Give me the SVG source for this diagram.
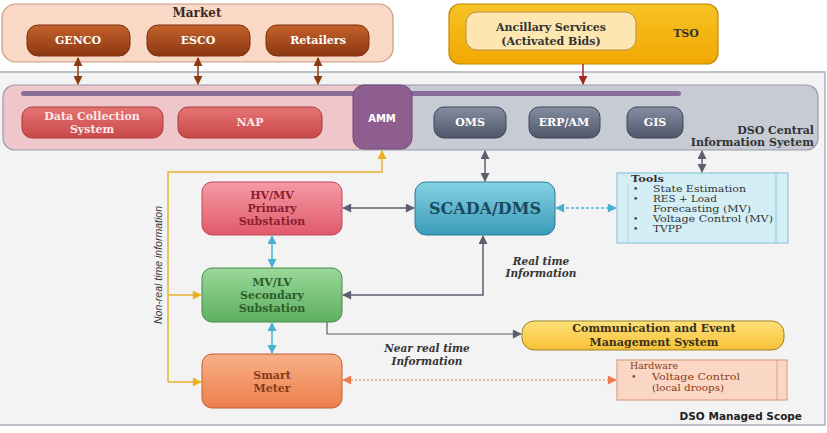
<svg xmlns="http://www.w3.org/2000/svg" width="827" height="433" viewBox="0 0 827 433">
<style>
.sb{font-family:"DejaVu Serif","Liberation Serif",serif;font-weight:bold;text-anchor:middle}
.sn{font-family:"DejaVu Serif","Liberation Serif",serif}
.ss{font-family:"DejaVu Sans","Liberation Sans",sans-serif;font-weight:bold}
.it{font-family:"DejaVu Serif","Liberation Serif",serif;font-weight:bold;font-style:italic;text-anchor:middle;font-size:10.5px;fill:#333}
</style>
<defs>
<linearGradient id="gBrown" x1="0" y1="0" x2="0" y2="1"><stop offset="0" stop-color="#c4622c"/><stop offset="1" stop-color="#8c3710"/></linearGradient>
<linearGradient id="gRed" x1="0" y1="0" x2="0" y2="1"><stop offset="0" stop-color="#e67474"/><stop offset="1" stop-color="#c94848"/></linearGradient>
<linearGradient id="gSlate" x1="0" y1="0" x2="0" y2="1"><stop offset="0" stop-color="#858da0"/><stop offset="1" stop-color="#4e566a"/></linearGradient>
<linearGradient id="gPink" x1="0" y1="0" x2="0" y2="1"><stop offset="0" stop-color="#f59aa4"/><stop offset="1" stop-color="#e05a6c"/></linearGradient>
<linearGradient id="gGreen" x1="0" y1="0" x2="0" y2="1"><stop offset="0" stop-color="#9ad89a"/><stop offset="1" stop-color="#5eb060"/></linearGradient>
<linearGradient id="gOrange" x1="0" y1="0" x2="0" y2="1"><stop offset="0" stop-color="#f8b088"/><stop offset="1" stop-color="#ec7f4c"/></linearGradient>
<linearGradient id="gTeal" x1="0" y1="0" x2="0" y2="1"><stop offset="0" stop-color="#86d2e4"/><stop offset="1" stop-color="#3a9ab8"/></linearGradient>
<linearGradient id="gGold" x1="0" y1="0" x2="0" y2="1"><stop offset="0" stop-color="#f8c226"/><stop offset="1" stop-color="#f0a800"/></linearGradient>
<linearGradient id="gYellow" x1="0" y1="0" x2="0" y2="1"><stop offset="0" stop-color="#fde07a"/><stop offset="1" stop-color="#f6c136"/></linearGradient>
<marker id="aBrown" viewBox="0 0 10 10" refX="9" refY="5" markerWidth="9" markerHeight="9" markerUnits="userSpaceOnUse" orient="auto-start-reverse"><path d="M0,0L10,5L0,10z" fill="#8b3a10"/></marker>
<marker id="aRed" viewBox="0 0 10 10" refX="9" refY="5" markerWidth="9" markerHeight="9" markerUnits="userSpaceOnUse" orient="auto-start-reverse"><path d="M0,0L10,5L0,10z" fill="#a02828"/></marker>
<marker id="aGray" viewBox="0 0 10 10" refX="9" refY="5" markerWidth="10" markerHeight="9" markerUnits="userSpaceOnUse" orient="auto-start-reverse"><path d="M0,0L10,5L0,10z" fill="#5a6070"/></marker>
<marker id="aCyan" viewBox="0 0 10 10" refX="9" refY="5" markerWidth="10" markerHeight="9" markerUnits="userSpaceOnUse" orient="auto-start-reverse"><path d="M0,0L10,5L0,10z" fill="#4ab0d0"/></marker>
<marker id="aYel" viewBox="0 0 10 10" refX="9" refY="5" markerWidth="11" markerHeight="9" markerUnits="userSpaceOnUse" orient="auto-start-reverse"><path d="M0,0L10,5L0,10z" fill="#eab020"/></marker>
<marker id="aOr" viewBox="0 0 10 10" refX="9" refY="5" markerWidth="11" markerHeight="9" markerUnits="userSpaceOnUse" orient="auto-start-reverse"><path d="M0,0L10,5L0,10z" fill="#f07a50"/></marker>
</defs>
<rect width="827" height="433" fill="#ffffff"/>

<!-- DSO managed scope frame -->
<g id="scope">
<rect x="-2" y="72" width="827" height="353" fill="#f3f3f4" stroke="#aab0ba" stroke-width="1.5"/>
<text class="ss" x="802" y="420" font-size="10.5" text-anchor="end" fill="#222">DSO Managed Scope</text>
</g>

<!-- Market -->
<g id="market">
<rect x="2" y="4" width="391" height="58" rx="14" fill="#f9d8c6" stroke="#c69a80" stroke-width="1.2"/>
<text class="sb" x="197" y="17" font-size="12" fill="#3a2a20">Market</text>
</g>
<g id="genco"><rect x="27" y="25" width="103" height="31" rx="11" fill="url(#gBrown)" stroke="#7a3010"/><text class="sb" x="78" y="44" font-size="11" fill="#fff">GENCO</text></g>
<g id="esco"><rect x="147" y="25" width="103" height="31" rx="11" fill="url(#gBrown)" stroke="#7a3010"/><text class="sb" x="198" y="44" font-size="11" fill="#fff">ESCO</text></g>
<g id="retailers"><rect x="266" y="25" width="103" height="31" rx="11" fill="url(#gBrown)" stroke="#7a3010"/><text class="sb" x="318" y="44" font-size="11" fill="#fff">Retailers</text></g>

<!-- TSO -->
<g id="tso">
<rect x="449" y="4" width="269" height="60" rx="11" fill="url(#gGold)" stroke="#c08a00" stroke-width="1.2"/>
<text class="sb" x="686" y="37" font-size="11" fill="#333">TSO</text>
</g>
<g id="ancillary">
<rect x="466" y="12" width="170" height="38" rx="11" fill="#fde6b0" stroke="#b8904a"/>
<text class="sb" x="551" y="31" font-size="11" fill="#333">Ancillary Services</text>
<text class="sb" x="551" y="45" font-size="11" fill="#333">(Activated Bids)</text>
</g>

<!-- DSO central info system band -->
<g id="dso-central">
<path d="M15,85 H368 V150 H15 Q3,150 3,138 V97 Q3,85 15,85 Z" fill="#efc6c9"/>
<path d="M368,85 H806 Q818,85 818,97 V138 Q818,150 806,150 H368 Z" fill="#c7cbd3"/>
<rect x="3" y="85" width="815" height="65" rx="12" fill="none" stroke="#9a9aa6" stroke-width="1.2"/>
<rect x="21" y="91" width="660" height="5" rx="2.5" fill="#8a6c98"/>
<text class="sb" x="814" y="134" font-size="11" fill="#333" style="text-anchor:end">DSO Central</text>
<text class="sb" x="814" y="146" font-size="11" fill="#333" style="text-anchor:end">Information Syetem</text>
</g>
<g id="dcs"><rect x="22" y="107" width="141" height="31" rx="10" fill="url(#gRed)" stroke="#a83a3a"/><text class="sb" x="92" y="120" font-size="11" fill="#fde8e8">Data Collection</text><text class="sb" x="92" y="133" font-size="11" fill="#fde8e8">System</text></g>
<g id="nap"><rect x="178" y="107" width="144" height="31" rx="10" fill="url(#gRed)" stroke="#a83a3a"/><text class="sb" x="250" y="126" font-size="11" fill="#fde8e8">NAP</text></g>
<g id="amm"><rect x="353" y="85" width="59" height="64" rx="11" fill="#8e5f8e" stroke="#74487a"/><text class="ss" x="382" y="122" font-size="10" fill="#fff" text-anchor="middle">AMM</text></g>
<g id="oms"><rect x="434" y="107" width="72" height="31" rx="10" fill="url(#gSlate)" stroke="#3e4656"/><text class="sb" x="470" y="126" font-size="11" fill="#fff">OMS</text></g>
<g id="erp"><rect x="529" y="107" width="71" height="31" rx="10" fill="url(#gSlate)" stroke="#3e4656"/><text class="sb" x="564" y="126" font-size="11" fill="#fff">ERP/AM</text></g>
<g id="gis"><rect x="627" y="107" width="56" height="31" rx="10" fill="url(#gSlate)" stroke="#3e4656"/><text class="sb" x="655" y="126" font-size="11" fill="#fff">GIS</text></g>

<!-- Field nodes -->
<g id="hvmv"><rect x="202" y="182" width="140" height="53" rx="10" fill="url(#gPink)" stroke="#c04a5a"/><text class="sb" x="272" y="199" font-size="11" fill="#8a2030">HV/MV</text><text class="sb" x="272" y="212" font-size="11" fill="#8a2030">Primary</text><text class="sb" x="272" y="225" font-size="11" fill="#8a2030">Substation</text></g>
<g id="mvlv"><rect x="202" y="268" width="140" height="54" rx="10" fill="url(#gGreen)" stroke="#4a8a4a"/><text class="sb" x="272" y="286" font-size="11" fill="#2a5e2a">MV/LV</text><text class="sb" x="272" y="299" font-size="11" fill="#2a5e2a">Secondary</text><text class="sb" x="272" y="312" font-size="11" fill="#2a5e2a">Substation</text></g>
<g id="smartmeter"><rect x="202" y="354" width="140" height="54" rx="10" fill="url(#gOrange)" stroke="#c06030"/><text class="sb" x="272" y="379" font-size="11" fill="#8a3a1a">Smart</text><text class="sb" x="272" y="392" font-size="11" fill="#8a3a1a">Meter</text></g>
<g id="scada"><rect x="415" y="182" width="140" height="53" rx="11" fill="url(#gTeal)" stroke="#2a7a98"/><text class="sb" x="485" y="214" font-size="16" fill="#1a4a5e">SCADA/DMS</text></g>
<g id="tools">
<rect x="617" y="173" width="171" height="70" fill="#d4eef6" stroke="#8cc6da" stroke-width="1.2"/>
<line x1="776" y1="173" x2="776" y2="243" stroke="#8cc6da"/>
<line x1="628" y1="184" x2="628" y2="243" stroke="#b0d8e6"/>
<g class="sn" font-size="9" fill="#333" lengthAdjust="spacingAndGlyphs">
<text x="631" y="182" font-weight="bold" textLength="33" lengthAdjust="spacingAndGlyphs">Tools</text>
<text x="633" y="192">•</text><text x="653" y="192" textLength="93" lengthAdjust="spacingAndGlyphs">State Estimation</text>
<text x="633" y="202">•</text><text x="653" y="202" textLength="64" lengthAdjust="spacingAndGlyphs">RES + Load</text>
<text x="653" y="212" textLength="98" lengthAdjust="spacingAndGlyphs">Forecasting (MV)</text>
<text x="633" y="222">•</text><text x="653" y="222" textLength="120" lengthAdjust="spacingAndGlyphs">Voltage Control (MV)</text>
<text x="633" y="232">•</text><text x="653" y="232" textLength="29" lengthAdjust="spacingAndGlyphs">TVPP</text>
</g>
</g>
<g id="comm"><rect x="522" y="321" width="262" height="29" rx="12" fill="url(#gYellow)" stroke="#a08228"/><text class="sb" x="654" y="332" font-size="11" fill="#3a3020">Communication and Event</text><text class="sb" x="654" y="346" font-size="11" fill="#3a3020">Management System</text></g>
<g id="hardware">
<rect x="617" y="360" width="170" height="40" fill="#fad6c4" stroke="#e2a080" stroke-width="1.2"/>
<line x1="777" y1="360" x2="777" y2="400" stroke="#e2a080"/>
<g class="sn" font-size="9.5" fill="#8a3a1a">
<text x="630" y="369" textLength="48" lengthAdjust="spacingAndGlyphs">Hardware</text>
<text x="631" y="380">•</text><text x="652" y="380" textLength="88" lengthAdjust="spacingAndGlyphs">Voltage Control</text>
<text x="652" y="391" textLength="72" lengthAdjust="spacingAndGlyphs">(local droops)</text>
</g>
</g>

<!-- Connectors -->
<g id="connectors" fill="none">
<line x1="78" y1="58" x2="78" y2="84" stroke="#8b3a10" stroke-width="1.5" marker-start="url(#aBrown)" marker-end="url(#aBrown)"/>
<line x1="198" y1="58" x2="198" y2="84" stroke="#8b3a10" stroke-width="1.5" marker-start="url(#aBrown)" marker-end="url(#aBrown)"/>
<line x1="318" y1="58" x2="318" y2="84" stroke="#8b3a10" stroke-width="1.5" marker-start="url(#aBrown)" marker-end="url(#aBrown)"/>
<line x1="583" y1="64" x2="583" y2="84" stroke="#a02828" stroke-width="1.5" marker-end="url(#aRed)"/>
<line x1="485" y1="151" x2="485" y2="181" stroke="#5a6070" stroke-width="1.5" marker-start="url(#aGray)" marker-end="url(#aGray)"/>
<line x1="702" y1="151" x2="702" y2="172" stroke="#5a6070" stroke-width="1.5" marker-start="url(#aGray)" marker-end="url(#aGray)"/>
<line x1="343" y1="208" x2="414" y2="208" stroke="#5a6070" stroke-width="1.5" marker-start="url(#aGray)" marker-end="url(#aGray)"/>
<line x1="556" y1="208" x2="616" y2="208" stroke="#4ab0d0" stroke-width="1.3" stroke-dasharray="3,2" marker-start="url(#aCyan)" marker-end="url(#aCyan)"/>
<line x1="272" y1="236" x2="272" y2="267" stroke="#4ab0d0" stroke-width="1.5" marker-start="url(#aCyan)" marker-end="url(#aCyan)"/>
<line x1="272" y1="323" x2="272" y2="353" stroke="#4ab0d0" stroke-width="1.5" marker-start="url(#aCyan)" marker-end="url(#aCyan)"/>
<polyline points="343,295 483,295 483,236" stroke="#5a6070" stroke-width="1.5" marker-start="url(#aGray)" marker-end="url(#aGray)"/>
<polyline points="327,322 327,334 521,334" stroke="#5a6070" stroke-width="1.2" marker-end="url(#aGray)"/>
<line x1="343" y1="380" x2="616" y2="380" stroke="#f0a090" stroke-width="1.3" stroke-dasharray="2,2" marker-start="url(#aOr)" marker-end="url(#aOr)"/>
<polyline points="168,382 168,172 382,172 382,151" stroke="#e8b030" stroke-width="1.5" marker-end="url(#aYel)"/>
<line x1="168" y1="295" x2="201" y2="295" stroke="#e8b030" stroke-width="1.5" marker-end="url(#aYel)"/>
<line x1="168" y1="382" x2="201" y2="382" stroke="#e8b030" stroke-width="1.5" marker-end="url(#aYel)"/>
</g>

<!-- Labels -->
<g id="labels">
<text class="it" x="541" y="265">Real time</text>
<text class="it" x="541" y="277">Information</text>
<text class="it" x="427" y="352">Near real time</text>
<text class="it" x="427" y="365">Information</text>
<text x="0" y="0" transform="translate(162,265) rotate(-90)" font-family="'Liberation Sans','DejaVu Sans',sans-serif" font-style="italic" font-size="11.5" fill="#333" text-anchor="middle" textLength="118" lengthAdjust="spacingAndGlyphs">Non-real time information</text>
</g>
</svg>
